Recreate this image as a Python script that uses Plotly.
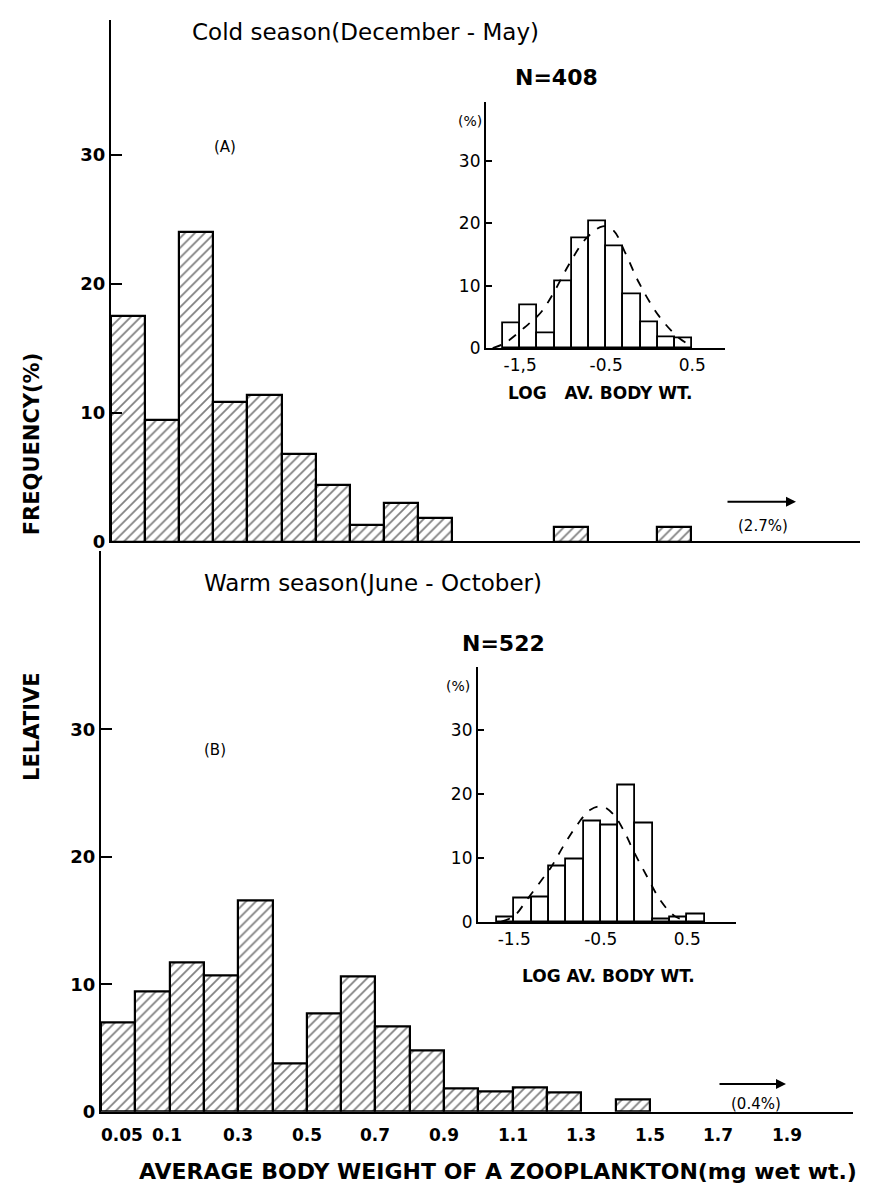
import plotly.graph_objects as go

W, H = 875, 1192

# ---------------- data ----------------
# main histograms: bin index -> bin (0-0.05, 0.05-0.1, 0.1-0.2, 0.2-0.3, ... mg wet wt.)
cold_bin_index = [0, 1, 2, 3, 4, 5, 6, 7, 8, 9, 13, 16]
cold_freq = [17.5, 9.4, 24.0, 10.8, 11.4, 6.8, 4.4, 1.3, 3.0, 1.8, 1.1, 1.1]

warm_bin_index = [0, 1, 2, 3, 4, 5, 6, 7, 8, 9, 10, 11, 12, 13, 15]
warm_freq = [7.0, 9.4, 11.7, 10.7, 16.6, 3.8, 7.7, 10.6, 6.7, 4.8, 1.8, 1.6, 1.9, 1.5, 1.0]

main_tick_pos = [1, 2, 4, 6, 8, 10, 12, 14, 16, 18, 20]
main_tick_text = ["0.05", "0.1", "0.3", "0.5", "0.7", "0.9", "1.1", "1.3", "1.5", "1.7", "1.9"]
y_ticks = [0, 10, 20, 30]

# inset histograms (log average body weight, bin centres)
cold_log_bins = [-1.6, -1.4, -1.2, -1.0, -0.8, -0.6, -0.4, -0.2, 0.0, 0.2, 0.4]
cold_log_freq = [4.0, 6.8, 2.4, 10.7, 17.6, 20.3, 16.3, 8.7, 4.2, 1.7, 1.6]
cold_curve_x = [-1.82, -1.68, -1.45, -1.26, -1.11, -0.92, -0.73, -0.54, -0.42, -0.27, -0.12, 0.11, 0.34, 0.51]
cold_curve_y = [0.0, 0.8, 3.3, 5.7, 8.9, 13.7, 17.6, 19.5, 18.9, 15.0, 10.5, 5.2, 1.7, 0.2]

warm_log_bins = [-1.6, -1.4, -1.2, -1.0, -0.8, -0.6, -0.4, -0.2, 0.0, 0.2, 0.4, 0.6]
warm_log_freq = [0.8, 3.8, 3.9, 8.7, 9.8, 15.8, 15.1, 21.4, 15.5, 0.5, 0.8, 1.3]
warm_curve_x = [-1.65, -1.50, -1.35, -1.19, -1.08, -0.92, -0.77, -0.62, -0.48, -0.35, -0.23, -0.12, 0.04, 0.19, 0.35, 0.54]
warm_curve_y = [0.1, 1.0, 3.6, 6.5, 8.5, 12.2, 15.3, 17.6, 18.1, 16.8, 14.2, 11.1, 7.0, 3.4, 1.0, 0.0]

inset_tick_pos = [-1.5, -0.5, 0.5]
cold_inset_tick_text = ["-1,5", "-0.5", "0.5"]
warm_inset_tick_text = ["-1.5", "-0.5", "0.5"]

FONT = "DejaVu Sans"


def px(x):
    return x / W


def py(y):
    return 1 - y / H


fig = go.Figure()

hatch = dict(color="white", line=dict(color="black", width=2.2),
             pattern=dict(shape="/", fgcolor="black", bgcolor="white", size=7, solidity=0.25))

fig.add_trace(go.Bar(x=[i + 0.5 for i in cold_bin_index], y=cold_freq, width=1,
                     marker=hatch, xaxis="x", yaxis="y", showlegend=False))
fig.add_trace(go.Bar(x=[i + 0.5 for i in warm_bin_index], y=warm_freq, width=1,
                     marker=hatch, xaxis="x2", yaxis="y2", showlegend=False))

plain = dict(color="white", line=dict(color="black", width=1.8))
fig.add_trace(go.Bar(x=cold_log_bins, y=cold_log_freq, width=0.2, marker=plain,
                     xaxis="x3", yaxis="y3", showlegend=False))
fig.add_trace(go.Scatter(x=cold_curve_x, y=cold_curve_y, mode="lines",
                         line=dict(color="black", width=1.8, dash="dash", shape="spline"),
                         xaxis="x3", yaxis="y3", showlegend=False))
fig.add_trace(go.Bar(x=warm_log_bins, y=warm_log_freq, width=0.2, marker=plain,
                     xaxis="x4", yaxis="y4", showlegend=False))
fig.add_trace(go.Scatter(x=warm_curve_x, y=warm_curve_y, mode="lines",
                         line=dict(color="black", width=1.8, dash="dash", shape="spline"),
                         xaxis="x4", yaxis="y4", showlegend=False))

axis_common = dict(showline=True, linecolor="black", linewidth=2.2, showgrid=False, zeroline=False,
                   ticks="inside", tickcolor="black", tickwidth=2, ticklen=11)
inset_axis = dict(showline=True, linecolor="black", linewidth=2.2, showgrid=False, zeroline=False,
                  ticks="inside", tickcolor="black", tickwidth=2, ticklen=6)
tickfont_main = dict(family=FONT, size=18, color="black", weight="bold")
tickfont_inset = dict(family=FONT, size=17, color="black")
xline = dict(showline=True, linecolor="black", linewidth=2.2, showgrid=False, zeroline=False)

fig.update_layout(
    xaxis=dict(domain=[px(103), px(852)], range=[0, (852 - 103) / 34.1], anchor="y",
               showticklabels=False, ticks="", **xline),
    yaxis=dict(domain=[py(538), py(12)], range=[0, (538 - 12) / 13.0], anchor="x",
               tickvals=y_ticks, tickfont=tickfont_main, **axis_common),
    xaxis2=dict(domain=[px(93), px(845)], range=[0, (845 - 93) / 34.3], anchor="y2",
                showticklabels=False, ticks="", **xline),
    yaxis2=dict(domain=[py(1113), py(548)], range=[0, (1113 - 548) / 12.85], anchor="x2",
                tickvals=y_ticks, tickfont=tickfont_main, **axis_common),
    xaxis3=dict(domain=[px(478), px(717)], range=[-1.7 - (495 - 478) / 86, -1.7 + (717 - 495) / 86], anchor="y3",
                tickvals=inset_tick_pos, ticktext=cold_inset_tick_text, ticks="", tickangle=0,
                tickfont=tickfont_inset, **xline),
    yaxis3=dict(domain=[py(343), py(95)], range=[0, (343 - 95) / 6.3], anchor="x3",
                tickvals=y_ticks, tickfont=tickfont_inset, **inset_axis),
    xaxis4=dict(domain=[px(470), px(728)], range=[-1.7 - (489 - 470) / 86.5, -1.7 + (728 - 489) / 86.5], anchor="y4",
                tickvals=inset_tick_pos, ticktext=warm_inset_tick_text, ticks="", tickangle=0,
                tickfont=tickfont_inset, **xline),
    yaxis4=dict(domain=[py(922), py(665)], range=[0, (922 - 665) / 6.45], anchor="x4",
                tickvals=y_ticks, tickfont=tickfont_inset, **inset_axis),
)

annotations = []


def text(x, y, s, size, bold=False, angle=0, xanchor="center"):
    annotations.append(dict(x=px(x), y=py(y), xref="paper", yref="paper", text=s, showarrow=False,
                            xanchor=xanchor, yanchor="middle", textangle=angle,
                            font=dict(family=FONT, size=size, color="black", weight="bold" if bold else "normal")))


# bottom x-axis tick labels placed on the x2 data axis (kept horizontal like the original)
label_shift = {"0.05": -13, "0.1": -3}
for pos, lab in zip(main_tick_pos, main_tick_text):
    annotations.append(dict(x=pos, y=py(1137), xref="x2", yref="paper", text=lab, showarrow=False,
                            xanchor="center", yanchor="middle", xshift=label_shift.get(lab, 0),
                            font=dict(family=FONT, size=17, color="black", weight="bold")))

text(357, 24, "Cold season(December - May)", 23)
text(548, 70, "N=408", 22, bold=True)
text(462, 114, "(%)", 14)
text(217, 140, "(A)", 15)
text(592, 388, "LOG&nbsp;&nbsp;&nbsp;AV. BODY WT.", 17, bold=True)
text(755, 522, "(2.7%)", 15)

text(365, 580, "Warm season(June - October)", 23)
text(495, 641, "N=522", 22, bold=True)
text(450, 684, "(%)", 14)
text(207, 748, "(B)", 15)
text(600, 976, "LOG AV. BODY WT.", 17, bold=True)
text(748, 1105, "(0.4%)", 15)

text(490, 1173, "AVERAGE BODY WEIGHT OF A ZOOPLANKTON(mg wet wt.)", 22, bold=True)
text(24, 440, "FREQUENCY(%)", 21, bold=True, angle=-90)
text(24, 725, "LELATIVE", 21, bold=True, angle=-90)

# arrows
for (x0, x1, yy) in [(718, 788, 498), (710, 778, 1085)]:
    annotations.append(dict(x=px(x1), y=py(yy), xref="paper", yref="paper", ax=-(x1 - x0), ay=0,
                            text="", showarrow=True, arrowhead=2, arrowsize=1, arrowwidth=2, arrowcolor="black"))

fig.update_layout(annotations=annotations, width=W, height=H, margin=dict(l=0, r=0, t=0, b=0),
                  paper_bgcolor="white", plot_bgcolor="rgba(0,0,0,0)", bargap=0,
                  font=dict(family=FONT, color="black"))

fig.write_html("out.html")
